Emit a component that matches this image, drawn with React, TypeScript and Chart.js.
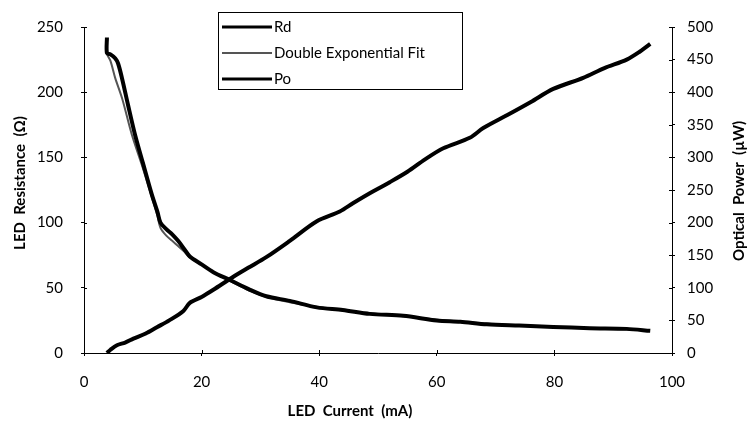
import React, { useEffect, useRef } from "react";
import { Chart, registerables } from "chart.js";

Chart.register(...registerables);

const rdCurrent = [3.9, 3.9, 4.5, 5.3, 5.8, 6.5, 7.5, 8.7, 10, 11.5, 12.5, 13, 14, 15, 16, 17, 18, 20, 22, 24.8, 28, 31, 35, 39.6, 44, 48.6, 54.3, 60, 64, 68.5, 74, 79.8, 86, 92.3, 96.3];
const rdValues = [242, 230, 229, 226, 222, 210, 190, 167, 146, 122, 108, 100, 95, 91, 86, 80, 74, 68, 62, 56, 49, 43.5, 40, 35, 33, 30, 28.5, 25, 24, 22, 21, 20, 19, 18.5, 17];

const fitCurrent = [3.9, 4.5, 5.3, 6.5, 8.1, 10, 11.5, 12.5, 13, 14, 15, 16, 17, 18, 20, 22, 25, 28, 31, 35, 40, 45, 50, 55, 60, 65, 70, 75, 80, 85, 90, 96];
const fitValues = [229, 224, 211, 195, 168, 142, 120, 105, 96, 90, 86, 82, 78, 73, 68, 62, 55, 48, 43, 39, 35, 32, 30, 28, 25.5, 23.5, 22, 21, 20, 19, 18.5, 17.5];

const poCurrent = [3.9, 4.5, 5.6, 7, 8.4, 10.5, 12.4, 14.5, 16.9, 18, 20, 22, 25.4, 28, 31, 35, 39.6, 43.5, 45.8, 48.6, 52, 55, 58, 61.1, 65.6, 67.9, 72, 76, 79.8, 84.9, 88.5, 92.3, 94.5, 96.3];
const poValues = [0, 5, 12, 16, 22, 30, 39.5, 50, 64.5, 77, 86, 97, 117, 131, 147, 172, 202, 217, 230, 245, 262, 278, 297, 314, 330, 345, 365, 385, 405, 422, 437, 450, 462, 474];

const seriesLabels = ["Rd", "Double Exponential Fit", "Po"];
const xTitle = "LED  Current  (mA)";
const yTitle = "LED  Resistance  (Ω)";
const y1Title = "Optical  Power  (µW)";

const FONT = "Lato, 'Open Sans', sans-serif";

const toPoints = (xs: number[], ys: number[]) => xs.map((x, i) => ({ x, y: ys[i] }));

export default function App() {
  const ref = useRef<HTMLCanvasElement | null>(null);

  useEffect(() => {
    if (!ref.current) return;

    const extras = {
      id: "extras",
      afterDraw(chart: any) {
        const ctx = chart.ctx;
        const { left, right, bottom } = chart.chartArea;
        ctx.save();
        ctx.strokeStyle = "#000";
        ctx.lineWidth = 1;
        // inward tick marks
        const xs = chart.scales.x;
        xs.ticks.forEach((t: any) => {
          const px = Math.round(xs.getPixelForValue(t.value)) + 0.5;
          ctx.beginPath();
          ctx.moveTo(px, bottom);
          ctx.lineTo(px, bottom - 3);
          ctx.stroke();
        });
        const ys = chart.scales.y;
        ys.ticks.forEach((t: any) => {
          const py = Math.round(ys.getPixelForValue(t.value)) + 0.5;
          ctx.beginPath();
          ctx.moveTo(left, py);
          ctx.lineTo(left + 3, py);
          ctx.stroke();
        });
        const y1 = chart.scales.y1;
        y1.ticks.forEach((t: any) => {
          const py = Math.round(y1.getPixelForValue(t.value)) + 0.5;
          ctx.beginPath();
          ctx.moveTo(right, py);
          ctx.lineTo(right - 3, py);
          ctx.stroke();
        });
        // titles
        ctx.fillStyle = "#000";
        ctx.font = `bold 15px ${FONT}`;
        ctx.textAlign = "center";
        ctx.textBaseline = "middle";
        ctx.fillText(xTitle, 350, 411);
        ctx.save();
        ctx.translate(20, 183);
        ctx.rotate(-Math.PI / 2);
        ctx.fillText(yTitle, 0, 0);
        ctx.restore();
        ctx.save();
        ctx.translate(739, 191);
        ctx.rotate(-Math.PI / 2);
        ctx.fillText(y1Title, 0, 0);
        ctx.restore();
        // legend box
        const bx = 218.5, by = 12.5, bw = 244, bh = 77;
        ctx.fillStyle = "#fff";
        ctx.fillRect(bx, by, bw, bh);
        ctx.strokeRect(bx, by, bw, bh);
        const rowsY = [27, 53, 79];
        chart.data.datasets.forEach((ds: any, i: number) => {
          ctx.beginPath();
          ctx.strokeStyle = ds.borderColor;
          ctx.lineWidth = i === 1 ? 2 : 3;
          ctx.moveTo(222, rowsY[i]);
          ctx.lineTo(272, rowsY[i]);
          ctx.stroke();
          ctx.fillStyle = "#000";
          ctx.font = `15px ${FONT}`;
          ctx.textAlign = "left";
          ctx.fillText(ds.label, 274, rowsY[i]);
        });
        ctx.restore();
      },
    };

    const chart = new Chart(ref.current, {
      type: "line",
      data: {
        datasets: [
          {
            label: seriesLabels[0],
            data: toPoints(rdCurrent, rdValues),
            borderColor: "#000",
            borderWidth: 4,
            pointRadius: 0,
            tension: 0.3,
            yAxisID: "y",
          },
          {
            label: seriesLabels[1],
            data: toPoints(fitCurrent, fitValues),
            borderColor: "#555",
            borderWidth: 2,
            pointRadius: 0,
            tension: 0.3,
            yAxisID: "y",
          },
          {
            label: seriesLabels[2],
            data: toPoints(poCurrent, poValues),
            borderColor: "#000",
            borderWidth: 4,
            pointRadius: 0,
            tension: 0.3,
            yAxisID: "y1",
          },
        ],
      },
      options: {
        animation: false,
        responsive: false,
        layout: { padding: { top: 20, left: 0, right: 0, bottom: 0 } },
        plugins: { legend: { display: false }, tooltip: { enabled: false } },
        scales: {
          x: {
            type: "linear",
            min: 0,
            max: 100,
            afterFit: (s: any) => { s.height = 69; },
            ticks: { stepSize: 20, color: "#000", font: { family: FONT, size: 15 }, padding: 17, maxRotation: 0 },
            grid: { display: true, drawOnChartArea: false, color: "#000", tickLength: 3, tickColor: "#000" },
            border: { display: true, color: "#000", width: 1 },
          },
          y: {
            type: "linear",
            position: "left",
            min: 0,
            max: 250,
            afterFit: (s: any) => { s.width = 84; },
            ticks: { stepSize: 50, color: "#000", font: { family: FONT, size: 15 }, padding: 18 },
            grid: { display: true, drawOnChartArea: false, tickLength: 3, tickColor: "#000" },
            border: { display: true, color: "#000", width: 1 },
          },
          y1: {
            type: "linear",
            position: "right",
            min: 0,
            max: 500,
            afterFit: (s: any) => { s.width = 80; },
            ticks: { stepSize: 50, color: "#000", font: { family: FONT, size: 15 }, padding: 12 },
            grid: { display: true, drawOnChartArea: false, tickLength: 3, tickColor: "#000" },
            border: { display: true, color: "#000", width: 1 },
          },
        },
      },
      plugins: [extras],
    });

    return () => chart.destroy();
  }, []);

  return (
    <div style={{ position: "absolute", left: 0, top: 0, width: 752, height: 422, background: "#fff" }}>
      <canvas ref={ref} width={752} height={422} />
    </div>
  );
}
